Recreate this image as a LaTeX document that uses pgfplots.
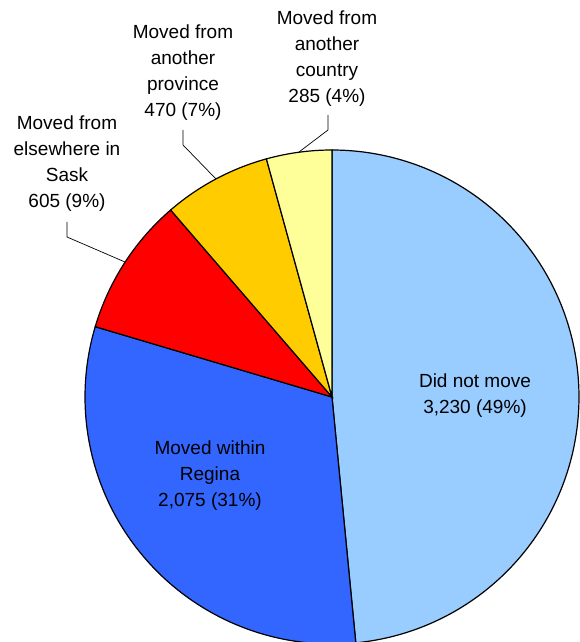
\documentclass[border=0pt]{standalone}
\usepackage{fontspec}
\setmainfont{Liberation Sans}
\usepackage{pgfplots}
\pgfplotsset{compat=1.18}
\definecolor{cA}{HTML}{99CCFF}
\definecolor{cB}{HTML}{3366FF}
\definecolor{cC}{HTML}{FF0000}
\definecolor{cD}{HTML}{FFCC00}
\definecolor{cE}{HTML}{FFFF99}
\begin{document}
\begin{tikzpicture}
% values: Did not move, Moved within Regina, elsewhere in Sask, another province, another country
\pgfmathsetmacro{\vA}{3230}
\pgfmathsetmacro{\vB}{2075}
\pgfmathsetmacro{\vC}{605}
\pgfmathsetmacro{\vD}{470}
\pgfmathsetmacro{\vE}{285}
\pgfmathsetmacro{\tot}{\vA+\vB+\vC+\vD+\vE}
\pgfmathsetmacro{\sA}{90}
\pgfmathsetmacro{\eA}{\sA-360*(\vA/\tot)}
\pgfmathsetmacro{\eB}{\eA-360*(\vB/\tot)}
\pgfmathsetmacro{\eC}{\eB-360*(\vC/\tot)}
\pgfmathsetmacro{\eD}{\eC-360*(\vD/\tot)}
\pgfmathsetmacro{\eE}{\eD-360*(\vE/\tot)}
\begin{axis}[scale only axis, width=580pt, height=642pt,
  xmin=0, xmax=580, ymin=0, ymax=642, hide axis, clip=true]
\addplot[fill=cA, draw=black, line width=1.2pt, domain=\eA:\sA, samples=150, variable=\t]
  ({332+247*cos(\t)},{245+247*sin(\t)}) -- (axis cs:332,245) -- cycle;
\addplot[fill=cB, draw=black, line width=1.2pt, domain=\eB:\eA, samples=100, variable=\t]
  ({332+247*cos(\t)},{245+247*sin(\t)}) -- (axis cs:332,245) -- cycle;
\addplot[fill=cC, draw=black, line width=1.2pt, domain=\eC:\eB, samples=40, variable=\t]
  ({332+247*cos(\t)},{245+247*sin(\t)}) -- (axis cs:332,245) -- cycle;
\addplot[fill=cD, draw=black, line width=1.2pt, domain=\eD:\eC, samples=40, variable=\t]
  ({332+247*cos(\t)},{245+247*sin(\t)}) -- (axis cs:332,245) -- cycle;
\addplot[fill=cE, draw=black, line width=1.2pt, domain=\eE:\eD, samples=30, variable=\t]
  ({332+247*cos(\t)},{245+247*sin(\t)}) -- (axis cs:332,245) -- cycle;
% leader lines
\addplot[black, line width=0.7pt] coordinates {(67,420) (67,405) (125,380)};
\addplot[black, line width=0.7pt] coordinates {(183,512) (183,497) (216,463)};
\addplot[black, line width=0.7pt] coordinates {(328,527) (328,512) (299,490)};
% labels
\begin{scope}[every node/.style={align=center, font=\fontsize{19}{26}\selectfont, inner sep=0pt}]
\node at (axis cs:67,478) {Moved from\\elsewhere in\\Sask\\605 (9\%)};
\node at (axis cs:183,569.5) {Moved from\\another\\province\\470 (7\%)};
\node at (axis cs:327,583) {Moved from\\another\\country\\285 (4\%)};
\node at (axis cs:475,246) {Did not move\\3,230 (49\%)};
\node at (axis cs:210,166) {Moved within\\Regina\\2,075 (31\%)};
\end{scope}
\end{axis}
\pgfresetboundingbox
\useasboundingbox (0,0) rectangle (580pt,642pt);
\end{tikzpicture}
\end{document}
